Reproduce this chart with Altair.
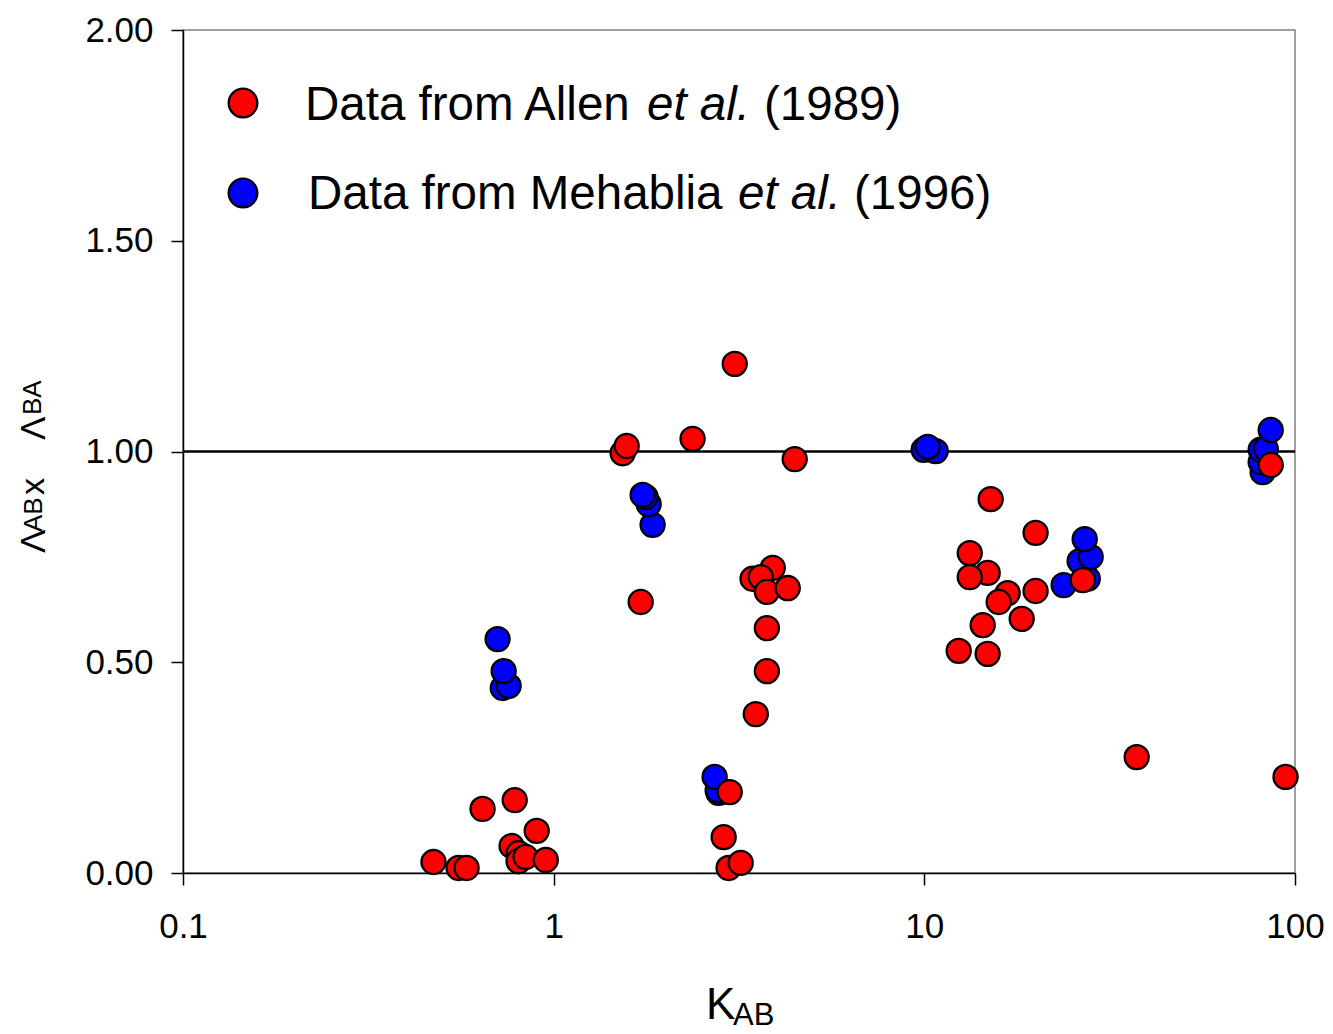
import altair as alt
import pandas as pd

# ---- data ----
allen_k = [0.474, 0.554, 0.582, 0.643, 0.785, 0.900, 0.770, 0.804, 0.804, 0.840, 0.952,
           3.08, 1.535, 1.574, 2.37, 4.47, 1.717, 3.44, 3.90, 3.62, 3.76, 4.28, 3.76, 3.76,
           3.51, 2.985, 2.875, 2.965, 3.195, 15.1, 19.96, 13.26, 14.82, 13.26, 16.78, 15.87,
           19.96, 18.31, 14.37, 12.38, 14.82, 26.75, 86.0, 37.4, 94.3]
allen_l = [0.026, 0.012, 0.012, 0.152, 0.173, 0.100, 0.064, 0.047, 0.028, 0.038, 0.031,
           1.208, 0.996, 1.013, 1.030, 0.982, 0.643, 0.698, 0.724, 0.702, 0.667, 0.676, 0.581, 0.479,
           0.377, 0.192, 0.085, 0.012, 0.024, 0.887, 0.807, 0.759, 0.712, 0.702, 0.664, 0.643,
           0.669, 0.603, 0.588, 0.527, 0.520, 0.695, 0.968, 0.275, 0.228]

mehablia_k = [0.729, 0.756, 0.733, 0.706, 1.849, 1.804, 1.771, 1.738, 2.786, 2.77, 2.718,
              9.96, 10.73, 10.21, 23.76, 27.6, 26.24, 28.1, 27.08, 81.8, 80.8, 80.8, 83.4, 86.0]
mehablia_l = [0.439, 0.444, 0.479, 0.555, 0.826, 0.875, 0.892, 0.897, 0.190, 0.197, 0.228,
              1.004, 1.001, 1.011, 0.683, 0.698, 0.740, 0.750, 0.792, 0.951, 0.975, 1.004, 1.006, 1.051]

x_ticks = [0.1, 1, 10, 100]
y_ticks = [0.0, 0.5, 1.0, 1.5, 2.0]
reference_line = 1.0

allen = pd.DataFrame({"k": allen_k, "l": allen_l})
mehablia = pd.DataFrame({"k": mehablia_k, "l": mehablia_l})

FONT = "Liberation Sans"

x_enc = alt.X("k:Q", scale=alt.Scale(type="log", domain=[0.1, 100]),
              axis=alt.Axis(values=x_ticks, format="~g", title=None, tickSize=12,
                            labelPadding=24, labelFlush=False))
y_enc = alt.Y("l:Q", scale=alt.Scale(domain=[0, 2]),
              axis=alt.Axis(values=y_ticks, format=".2f", title=None, tickSize=12,
                            labelPadding=18))

base_pt = dict(size=580, opacity=1, stroke="black", strokeWidth=2.3)

blue_pts = alt.Chart(mehablia).mark_circle(color="#0000FF", **base_pt).encode(x=x_enc, y=y_enc)
red_pts = alt.Chart(allen).mark_circle(color="#FF0000", **base_pt).encode(x=x_enc, y=y_enc)

rule = alt.Chart(pd.DataFrame({"l": [reference_line]})).mark_rule(
    color="black", strokeWidth=2.5).encode(y=alt.Y("l:Q"))

def txt(s, x, y, size, style="normal", angle=0):
    return alt.Chart(pd.DataFrame({"a": [0]})).mark_text(
        text=s, font=FONT, fontSize=size, fontStyle=style, align="left",
        baseline="alphabetic", color="black", angle=angle
    ).encode(x=alt.value(x), y=alt.value(y))

def legend_dot(color, x, y):
    return alt.Chart(pd.DataFrame({"a": [0]})).mark_point(
        shape="circle", filled=True, fill=color, size=820, opacity=1,
        stroke="black", strokeWidth=2.3
    ).encode(x=alt.value(x), y=alt.value(y))

LS = 47.5
legend = [
    legend_dot("#FF0000", 60, 73),
    txt("Data from Allen", 122, 90, LS),
    txt("et al.", 464, 90, LS, "italic"),
    txt("(1989)", 581, 90, LS),
    legend_dot("#0000FF", 60, 163),
    txt("Data from Mehablia", 125, 179, LS),
    txt("et al.", 555, 179, LS, "italic"),
    txt("(1996)", 671, 179, LS),
]

titles = [
    txt("K", 523, 989, 44),
    txt("AB", 550, 995, 31),
    txt("Λ", -138, 523, 35, angle=270),
    txt("AB", -141, 502, 26, angle=270),
    txt("x", -139, 465, 34, angle=270),
    txt("Λ", -138, 410, 35, angle=270),
    txt("BA", -142, 385, 26, angle=270),
]

chart = alt.layer(rule, blue_pts, red_pts, *legend, *titles).properties(
    width=1112, height=843,
    autosize="none",
    padding={"left": 175, "top": 22, "right": 30, "bottom": 160},
).configure_view(
    stroke="#808080", strokeWidth=1.5
).configure_axis(
    grid=False, domainColor="black", domainWidth=1.5, tickColor="black", tickWidth=1.5,
    labelFont=FONT, labelFontSize=35, labelColor="black"
)

chart.save("out.html", embed_options={"renderer": "svg", "actions": False})
